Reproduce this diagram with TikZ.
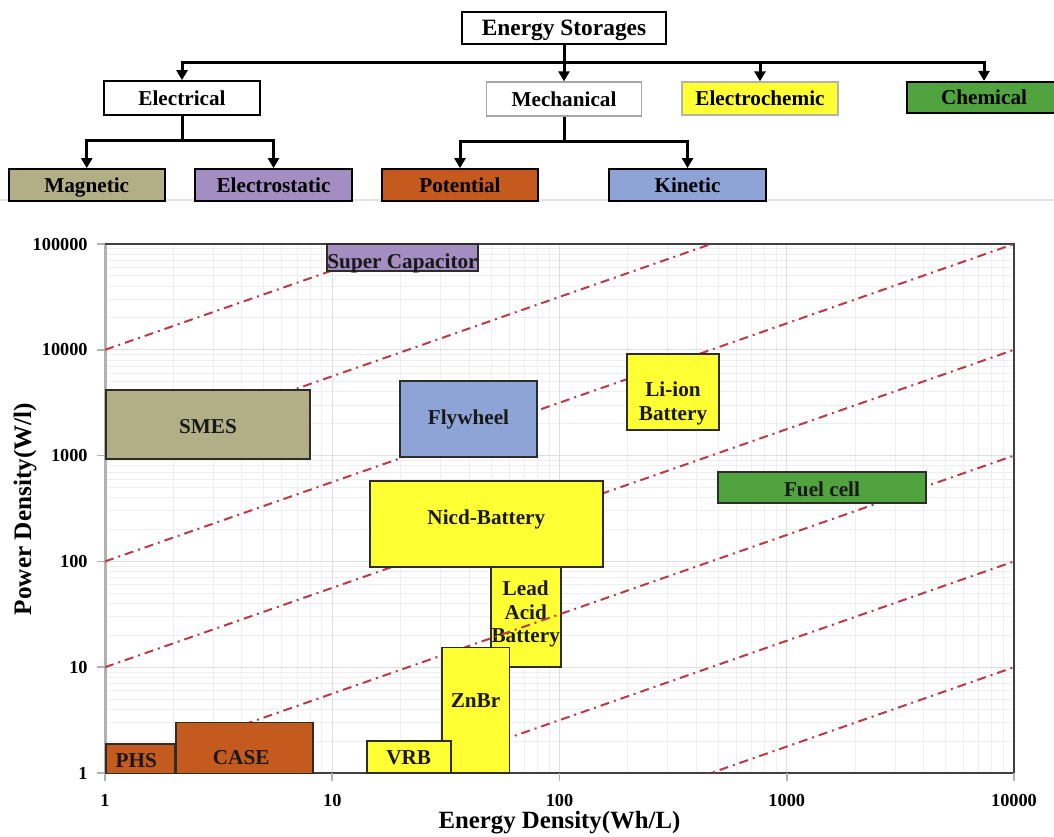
\documentclass[tikz,border=0pt]{standalone}
\usepackage{fontspec}
\setmainfont{Liberation Serif}
\usetikzlibrary{arrows.meta}
\definecolor{ckhaki}{RGB}{178,174,134}
\definecolor{clav}{RGB}{164,141,193}
\definecolor{corange}{RGB}{197,90,30}
\definecolor{cblue}{RGB}{142,164,214}
\definecolor{cyel}{RGB}{255,255,51}
\definecolor{cgreen}{RGB}{80,163,62}
\definecolor{cratio}{RGB}{188,58,72}
\definecolor{cborder}{RGB}{45,45,40}
\tikzset{
 arr/.style={line width=1.5pt, -{Triangle[width=5.5pt,length=5pt]}},
 tbox/.style={draw=black, line width=0.9pt, inner sep=0pt, text depth=0pt, font=\bfseries\fontsize{10.6}{12}\selectfont},
 pbox/.style={draw=cborder, line width=0.8pt, inner sep=0pt},
 plbl/.style={font=\bfseries\fontsize{10.6}{11.7}\selectfont, align=center, inner sep=0pt, text depth=0pt, text=black!90},
 ratioline/.style={draw=cratio, line width=1pt, dash pattern=on 4.5pt off 2.5pt on 1pt off 2.5pt},
 gmin/.style={draw=gray!13, line width=0.5pt},
 gmaj/.style={draw=gray!25, line width=0.6pt},
 ticklbl/.style={font=\bfseries\fontsize{9.15}{10}\selectfont, inner sep=0pt},
 axtitle/.style={font=\bfseries\fontsize{12.4}{14}\selectfont, inner sep=0pt},
}
\begin{document}
\begin{tikzpicture}[x=0.5pt,y=-0.5pt]
\useasboundingbox (0,0) rectangle (1054,836);
\fill[white] (0,0) rectangle (1054,836);
% separator
\draw[gray!22, line width=0.6pt] (0,200) -- (1054,200);
% ---------- tree ----------
\node[tbox, minimum width=102pt, minimum height=16pt, font=\bfseries\fontsize{11.7}{13}\selectfont] (es) at (564,28) {Energy Storages};
\coordinate (bus) at (0,62.5);
\coordinate (subA) at (0,140);
\coordinate (subB) at (0,141);
\node[tbox, minimum width=78pt, minimum height=17pt] (elec) at (182,98) {Electrical};
\node[tbox, draw=gray!70, line width=0.6pt, minimum width=77.5pt, minimum height=17pt] (mech) at (564,99) {Mechanical};
\node[tbox, draw=gray!60, line width=0.7pt, fill=cyel, minimum width=78pt, minimum height=16.5pt] (echem) at (760,98.5) {Electrochemic};
\node[tbox, fill=cgreen, minimum width=77pt, minimum height=15.7pt] (chem) at (984,97.5) {Chemical};
\node[tbox, fill=ckhaki, minimum width=78pt, minimum height=16pt] (magn) at (86.75,185) {Magnetic};
\node[tbox, fill=clav, minimum width=78.5pt, minimum height=16pt] (estat) at (273.5,185) {Electrostatic};
\node[tbox, fill=corange, minimum width=78pt, minimum height=16pt] (pot) at (460,185) {Potential};
\node[tbox, fill=cblue, minimum width=78.5pt, minimum height=16pt] (kin) at (687.5,185) {Kinetic};
\draw[arr] (es.south) -- (es.south |- bus) -| (elec.north);
\draw[arr] (es.south) -- (mech.north);
\draw[arr] (es.south) -- (es.south |- bus) -| (echem.north);
\draw[arr] (es.south) -- (es.south |- bus) -| (chem.north);
\draw[arr] (elec.south) -- (elec.south |- subA) -| (magn.north);
\draw[arr] (elec.south) -- (elec.south |- subA) -| (estat.north);
\draw[arr] (mech.south) -- (mech.south |- subB) -| (pot.north);
\draw[arr] (mech.south) -- (mech.south |- subB) -| (kin.north);
% ---------- grid ----------
\foreach \d in {0,1,2,3} {
  \foreach \m in {2,...,9} {
    \pgfmathsetmacro\xx{105+227.25*(\d+log10(\m))}
    \draw[gmin] (\xx,244) -- (\xx,773);
  }
}
\foreach \d in {0,...,4} {
  \foreach \m in {2,...,9} {
    \pgfmathsetmacro\yy{773-105.8*(\d+log10(\m))}
    \draw[gmin] (105,\yy) -- (1014,\yy);
  }
}
\foreach \d in {1,2,3} \draw[gmaj] ({105+227.25*\d},244) -- ({105+227.25*\d},773);
\foreach \d in {1,...,4} \draw[gmaj] (105,{773-105.8*\d}) -- (1014,{773-105.8*\d});
% ---------- frame ----------
\draw[gray!60, line width=1.5pt] (105,244) -- (105,773);
\draw[black!75, line width=1pt] (105,244) -- (1014,244) -- (1014,773) -- (105,773);
\foreach \d in {0,...,5} \draw[gray!60, line width=0.8pt] (97,{773-105.8*\d}) -- (105,{773-105.8*\d});
\foreach \d in {0,...,4} \draw[gray!60, line width=0.8pt] ({105+227.25*\d},773) -- ({105+227.25*\d},781);
\foreach \d/\t in {0/1,1/10,2/100,3/1000,4/10000,5/100000}
  \node[ticklbl, anchor=east] (yt\d) at (88,{773-105.8*\d}) {\t};
\foreach \d/\t in {0/1,1/10,2/100,3/1000,4/10000}
  \node[ticklbl] (xt\d) at ({105+227.25*\d},800) {\t};
\node[axtitle] (xtitle) at (559.5,823) {Energy Density(Wh/L)};
\node[axtitle, font=\bfseries\fontsize{12.6}{14}\selectfont, rotate=90] (ytitle) at (25,509) {Power Density(W/l)};
% ---------- lead acid (under the lines) ----------
\node[pbox, fill=cyel, minimum width=35pt, minimum height=50pt,
  label={[plbl, yshift=2.5pt]center:Lead\\Acid\\Battery}] (lead) at (525.7,616.7) {};
% ---------- ratio lines ----------
\begin{scope}
\clip (105,244) rectangle (1014,773);
\foreach \k in {-2,...,4}
  \draw[ratioline] (105,{773-105.8*\k}) -- (1014,{773-105.8*(\k+3)});
\end{scope}
% ---------- technology boxes ----------
\node[pbox, fill=clav, minimum width=75.5pt, minimum height=13.5pt,
  label={[plbl, yshift=-1.75pt]center:Super Capacitor}] (scap) at (402.5,257.5) {};
\node[pbox, fill=ckhaki, minimum width=102pt, minimum height=34.5pt,
  label={[plbl, yshift=-0.75pt]center:SMES}] (smes) at (208,424.5) {};
\node[pbox, fill=cblue, minimum width=68.5pt, minimum height=38pt,
  label={[plbl, yshift=1pt]center:Flywheel}] (fly) at (468.5,419) {};
\node[pbox, fill=cyel, minimum width=46pt, minimum height=38pt,
  label={[plbl, yshift=-4.5pt]center:Li-ion\\Battery}] (liion) at (673,392) {};
\node[pbox, fill=cgreen, minimum width=104pt, minimum height=15.5pt,
  label={[plbl, yshift=-0.75pt]center:Fuel cell}] (fuel) at (822,487.5) {};
\node[pbox, fill=cyel, minimum width=116.35pt, minimum height=43pt,
  label={[plbl, yshift=3.35pt]center:Nicd-Battery}] (nicd) at (486.35,523.7) {};
\node[pbox, fill=cyel, minimum width=33.8pt, minimum height=62.85pt,
  label={[plbl, yshift=5pt]center:ZnBr}] (znbr) at (475.5,710.15) {};
\node[pbox, fill=cyel, minimum width=42pt, minimum height=16pt,
  label={[plbl, yshift=-0.5pt]center:VRB}] (vrb) at (408.7,757) {};
\node[pbox, fill=corange, minimum width=34.2pt, minimum height=14.6pt,
  label={[plbl, yshift=-0.65pt, xshift=-2pt]center:PHS}] (phs) at (140.2,758.7) {};
\node[pbox, fill=corange, minimum width=68.5pt, minimum height=25.5pt,
  label={[plbl, yshift=-5pt, xshift=-1.5pt]center:CASE}] (case) at (244.2,747.8) {};
\end{tikzpicture}
\end{document}
